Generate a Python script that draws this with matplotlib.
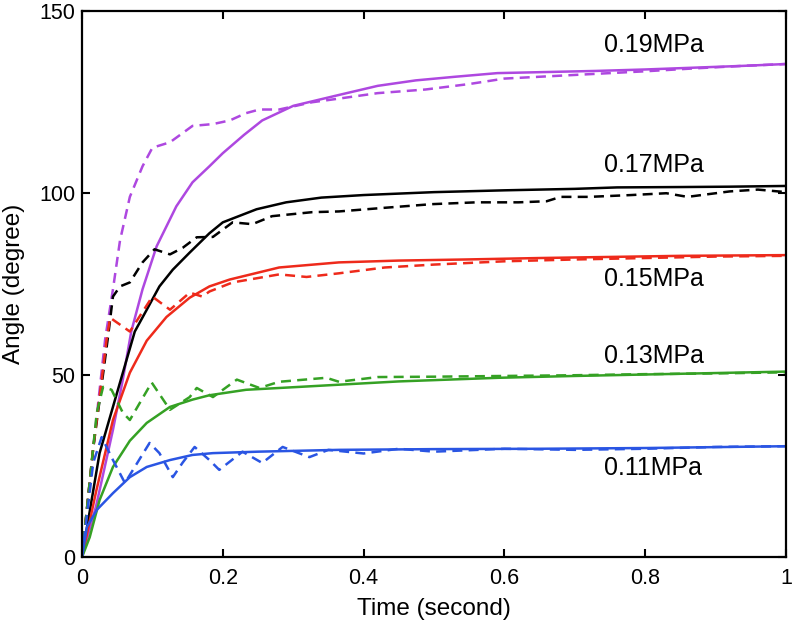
import matplotlib
matplotlib.use("Agg")
import matplotlib.pyplot as plt
from matplotlib.ticker import FuncFormatter

plt.rcParams['font.family'] = ['Liberation Sans', 'DejaVu Sans']

# 0.19 MPa
p19_ts = [0, 0.02, 0.044, 0.058, 0.07, 0.086, 0.106, 0.134, 0.157, 0.181, 0.2, 0.23, 0.256, 0.3, 0.365,
          0.42, 0.474, 0.53, 0.59, 0.66, 0.73, 0.8, 0.87, 0.94, 1.0]
p19_s = [0, 14, 35, 48.8, 62, 73.6, 85.4, 96.4, 103, 107.4, 111, 116, 120, 124, 127,
         129.5, 131, 132, 133, 133.3, 133.6, 134, 134.5, 135, 135.5]
p19_td = [0, 0.016, 0.033, 0.044, 0.054, 0.068, 0.086, 0.1, 0.125, 0.157, 0.186, 0.21, 0.233, 0.252, 0.28,
          0.327, 0.365, 0.42, 0.488, 0.55, 0.6, 0.65, 0.7, 0.75, 0.8, 0.87, 0.94, 1.0]
p19_d = [0, 30, 60, 73.6, 87, 99, 107.4, 112.5, 114, 118.5, 119, 120, 122, 123, 123,
         125, 126, 127.5, 128.5, 130, 131.5, 132, 132.5, 133, 133.5, 134.3, 135, 135.5]

# 0.17 MPa
p17_ts = [0, 0.025, 0.044, 0.063, 0.075, 0.092, 0.11, 0.129, 0.153, 0.181, 0.2, 0.248, 0.29, 0.34, 0.4,
          0.5, 0.6, 0.7, 0.76, 0.85, 0.92, 1.0]
p17_s = [0, 28.6, 41.3, 54, 62, 68, 74.4, 79, 83.7, 89, 92, 95.6, 97.5, 98.8, 99.5,
         100.3, 100.8, 101.2, 101.6, 101.7, 101.8, 102]
p17_td = [0, 0.016, 0.037, 0.044, 0.054, 0.068, 0.086, 0.103, 0.125, 0.143, 0.163, 0.186, 0.214, 0.242, 0.27,
          0.327, 0.365, 0.43, 0.497, 0.56, 0.62, 0.66, 0.68, 0.72, 0.78, 0.83, 0.86, 0.92, 0.96, 1.0]
p17_d = [0, 30, 60.6, 71.6, 74.4, 75.5, 81, 84.6, 83.2, 85, 87.9, 88, 92, 91.5, 93.7,
         94.8, 95, 96, 97, 97.5, 97.5, 97.8, 99, 99, 99.5, 100, 99, 100.5, 101, 100.3]

# 0.15 MPa
p15_ts = [0, 0.02, 0.044, 0.068, 0.092, 0.12, 0.153, 0.181, 0.21, 0.28, 0.365, 0.45, 0.545, 0.65, 0.75, 0.85, 1.0]
p15_s = [0, 18, 37.7, 50.7, 59.5, 66, 71.3, 74.4, 76.3, 79.6, 81, 81.5, 81.8, 82.2, 82.5, 82.8, 83]
p15_td = [0, 0.016, 0.035, 0.04, 0.068, 0.1, 0.125, 0.153, 0.171, 0.181, 0.214, 0.28, 0.319, 0.365, 0.43,
          0.5, 0.6, 0.7, 0.8, 0.9, 1.0]
p15_d = [0, 30, 59.8, 65.8, 62, 71.6, 68, 72.7, 71.6, 73, 75.5, 77.7, 77, 78, 79.6,
         80.4, 81.3, 81.8, 82.2, 82.6, 82.8]

# 0.13 MPa
p13_ts = [0, 0.011, 0.025, 0.044, 0.068, 0.092, 0.125, 0.157, 0.181, 0.233, 0.309, 0.365, 0.45, 0.592,
          0.7, 0.8, 0.9, 1.0]
p13_s = [0, 5.5, 15.7, 24.8, 32, 36.9, 41.3, 43.3, 44.5, 46, 46.8, 47.4, 48.3, 49.3,
         49.8, 50.2, 50.6, 51]
p13_td = [0, 0.021, 0.03, 0.042, 0.058, 0.068, 0.099, 0.125, 0.153, 0.163, 0.186, 0.22, 0.252, 0.28,
          0.347, 0.365, 0.42, 0.5, 0.6, 0.7, 0.8, 0.9, 1.0]
p13_d = [0, 39.7, 46.8, 46, 39.7, 37.7, 48, 40.5, 44, 46.5, 44, 48.8, 46.5, 48.2,
         49.3, 48.2, 49.5, 49.6, 49.8, 50, 50.3, 50.5, 50.8]

# 0.11 MPa
p11_ts = [0, 0.007, 0.021, 0.044, 0.068, 0.092, 0.125, 0.157, 0.186, 0.25, 0.365, 0.5, 0.65, 0.8, 1.0]
p11_s = [0, 8.3, 13, 17.6, 22, 24.8, 26.7, 28.1, 28.6, 29, 29.5, 29.7, 29.8, 30, 30.5]
p11_td = [0, 0.016, 0.028, 0.044, 0.061, 0.096, 0.11, 0.129, 0.143, 0.16, 0.181, 0.195, 0.228, 0.256,
          0.285, 0.323, 0.35, 0.4, 0.45, 0.5, 0.6, 0.7, 0.8, 0.9, 1.0]
p11_d = [0, 26, 33, 26.7, 20.4, 31.4, 28.6, 22, 26, 30.3, 26.7, 24, 29, 25.9,
         30.3, 27.5, 29.5, 28.5, 29.8, 29, 29.8, 29.5, 29.8, 30.3, 30.5]

labels = ["0.19MPa", "0.17MPa", "0.15MPa", "0.13MPa", "0.11MPa"]
label_y = [140.8, 107.7, 76.3, 55.4, 24.5]
colors = ["#AE48E0", "#000000", "#EE2A1B", "#35A124", "#2A55E3"]

series = [(p19_ts, p19_s, p19_td, p19_d), (p17_ts, p17_s, p17_td, p17_d),
          (p15_ts, p15_s, p15_td, p15_d), (p13_ts, p13_s, p13_td, p13_d),
          (p11_ts, p11_s, p11_td, p11_d)]

fig = plt.figure(figsize=(7.92, 6.24), dpi=100)
ax = fig.add_axes([0.1035, 0.107, 0.889, 0.875])

for (ts, s, td, d), c in zip(series, colors):
    ax.plot(td, d, color=c, lw=1.8, ls=(0, (4, 2.5)))
    ax.plot(ts, s, color=c, lw=1.8)

for lab, ly in zip(labels, label_y):
    ax.text(0.741, ly, lab, fontsize=18, ha='left', va='center')

ax.set_xlim(0, 1)
ax.set_ylim(0, 150)
ax.set_xticks([0, 0.2, 0.4, 0.6, 0.8, 1.0])
ax.set_yticks([0, 50, 100, 150])
ax.xaxis.set_major_formatter(FuncFormatter(lambda v, p: "%g" % v))
ax.tick_params(direction='in', top=True, right=True, length=6, width=1.5, labelsize=15.5)
ax.tick_params(axis='x', pad=8)
ax.tick_params(axis='y', pad=5)
for sp in ax.spines.values():
    sp.set_linewidth(1.6)
ax.set_xlabel("Time (second)", fontsize=17.5, labelpad=6)
ax.set_ylabel("Angle (degree)", fontsize=17.5, labelpad=10)

fig.savefig("out.png", dpi=100)
